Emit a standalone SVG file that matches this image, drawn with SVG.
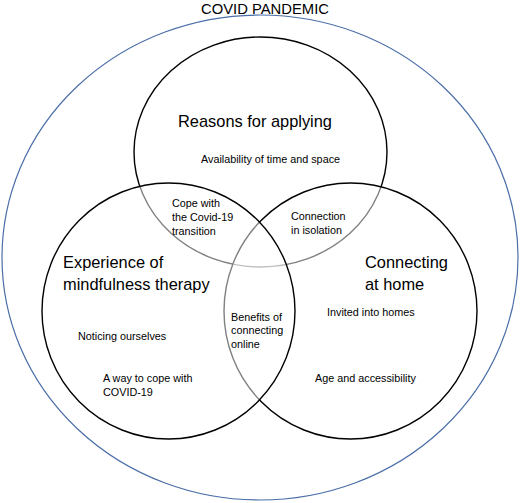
<svg xmlns="http://www.w3.org/2000/svg" width="520" height="503" viewBox="0 0 520 503">
<style>
text{font-family:"Liberation Sans",Arial,sans-serif;fill:#000}
.big{font-size:16.4px}
.sm{font-size:10.8px}
.c{fill:#fff;fill-opacity:0.5;stroke:#000;stroke-width:1.4}
</style>
<rect width="520" height="503" fill="#fff"/>
<g id="pandemic">
<ellipse cx="260" cy="257.5" rx="258" ry="242.5" fill="none" stroke="#4a6ea8" stroke-width="1.2"/>
<text x="265" y="14" text-anchor="middle" style="font-size:14.8px">COVID PANDEMIC</text>
</g>
<g id="reasons">
<ellipse class="c" cx="260.5" cy="152" rx="126.5" ry="115"/>
</g>
<g id="home">
<ellipse class="c" cx="350.5" cy="311" rx="126.5" ry="128"/>
</g>
<g id="experience">
<ellipse class="c" cx="168.5" cy="311" rx="126.5" ry="128"/>
</g>
<g id="labels">
<text class="big" x="255" y="127" text-anchor="middle">Reasons for applying</text>
<text class="sm" x="201" y="163">Availability of time and space</text>
<text class="sm" x="172" y="207">Cope with</text>
<text class="sm" x="172" y="221">the Covid-19</text>
<text class="sm" x="172" y="235">transition</text>
<text class="sm" x="291" y="220">Connection</text>
<text class="sm" x="291" y="233.5">in isolation</text>
<text class="big" x="63" y="268">Experience of</text>
<text class="big" x="63" y="290">mindfulness therapy</text>
<text class="big" x="365" y="268">Connecting</text>
<text class="big" x="365" y="290">at home</text>
<text class="sm" x="231" y="320.5">Benefits of</text>
<text class="sm" x="231" y="334">connecting</text>
<text class="sm" x="231" y="348">online</text>
<text class="sm" x="327" y="316">Invited into homes</text>
<text class="sm" x="78" y="340">Noticing ourselves</text>
<text class="sm" x="103" y="382">A way to cope with</text>
<text class="sm" x="103" y="396">COVID-19</text>
<text class="sm" x="315" y="382">Age and accessibility</text>
</g>
</svg>
